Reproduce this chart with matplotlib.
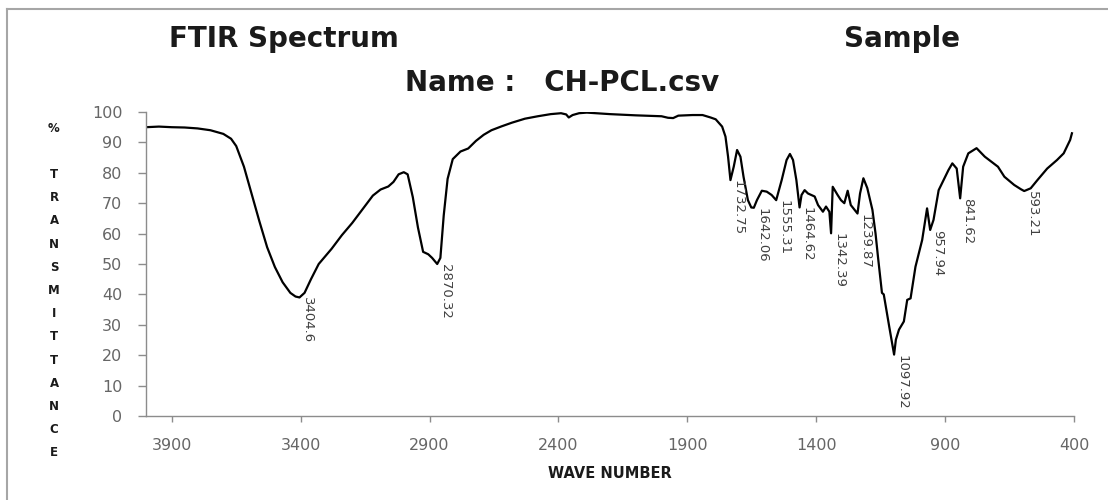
import matplotlib
matplotlib.use("Agg")
import matplotlib.pyplot as plt
import numpy as np
from matplotlib.lines import Line2D

# ---------------- data ----------------
wavenumber = [
    4000, 3950, 3900, 3850, 3800, 3750, 3700, 3670, 3650, 3620, 3590, 3560,
    3530, 3500, 3470, 3440, 3420, 3404.6, 3385, 3360, 3330, 3300, 3280, 3240,
    3200, 3160, 3120, 3090, 3060, 3040, 3020, 3000, 2985, 2965, 2945, 2925,
    2905, 2890, 2870.32, 2858, 2845, 2830, 2810, 2780, 2750, 2720, 2690, 2660,
    2620, 2580, 2530, 2480, 2430, 2390, 2370, 2360, 2345, 2320, 2290, 2200,
    2100, 2000, 1975, 1955, 1935, 1880, 1841, 1810, 1790, 1765, 1752, 1742,
    1732.75, 1720, 1707, 1694, 1682, 1665, 1652, 1642.06, 1630, 1611, 1592,
    1573, 1555.31, 1534, 1515, 1502, 1490, 1477, 1464.62, 1457, 1445, 1432,
    1419, 1406, 1393, 1374, 1362, 1349, 1342.39, 1336, 1317, 1304, 1291, 1278,
    1266, 1239.87, 1230, 1217, 1202, 1182, 1170, 1160, 1145, 1138, 1117,
    1097.92, 1091, 1079, 1060, 1047, 1034, 1015, 989, 970, 957.94, 945, 925,
    906, 887, 872, 855, 841.62, 830, 810, 778, 746, 695, 670, 632, 606,
    593.21, 568, 542, 504, 466, 440, 415, 408,
]
transmittance = [
    95.0, 95.2, 95.0, 94.9, 94.6, 94.0, 92.8, 91.2, 88.8, 82.0, 73.0, 64.0,
    55.5, 49.0, 44.0, 40.5, 39.3, 39.0, 40.5, 45.0, 50.0, 53.0, 55.0, 59.5,
    63.5, 68.0, 72.5, 74.5, 75.5, 77.0, 79.5, 80.2, 79.5, 72.0, 62.0, 54.0,
    53.2, 52.0, 50.0, 52.0, 66.0, 78.0, 84.5, 87.0, 88.0, 90.5, 92.5, 94.0,
    95.3, 96.5, 97.8, 98.6, 99.3, 99.6, 99.2, 98.2, 99.0, 99.6, 99.8, 99.3,
    98.9, 98.6, 98.1, 98.0, 98.8, 99.0, 99.0, 98.2, 97.6, 95.2, 91.9, 85.3,
    77.6, 82.0, 87.5, 85.3, 78.7, 71.0, 68.6, 68.5, 71.0, 74.1, 73.8,
    72.7, 71.0, 77.6, 84.2, 86.2, 84.2, 77.6, 68.6, 72.7, 74.3, 73.2,
    72.7, 72.2, 69.4, 67.2, 68.9, 67.2, 60.1, 75.4, 72.7, 71.0, 70.0, 74.1,
    69.4, 66.6, 73.2, 78.2, 75.0, 67.8, 60.1, 52.0, 40.5, 40.0, 29.5,
    20.2, 25.1, 28.4, 31.1, 38.2, 38.7, 49.1, 57.9, 68.3, 61.2, 64.5, 74.3,
    77.6, 80.9, 83.1, 81.4, 71.6, 82.0, 86.4, 88.1, 85.3, 82.0, 78.7, 76.0, 74.6,
    74.0, 74.9, 77.6, 81.4, 84.2, 86.4, 90.8, 93.0,
]

peak_positions = [3404.6, 2870.32, 1732.75, 1642.06, 1555.31, 1464.62,
                  1342.39, 1239.87, 1097.92, 957.94, 841.62, 593.21]
peak_labels = ['3404.6', '2870.32', '1732.75', '1642.06', '1555.31', '1464.62',
               '1342.39', '1239.87', '1097.92', '957.94', '841.62', '593.21']

x_ticks = [3900, 3400, 2900, 2400, 1900, 1400, 900, 400]
y_ticks = list(range(0, 101, 10))
y_title_letters = ['%', '', 'T', 'R', 'A', 'N', 'S', 'M', 'I', 'T', 'T', 'A', 'N', 'C', 'E']

# ---------------- figure ----------------
W, H = 1108, 500
fig = plt.figure(figsize=(W / 100, H / 100), dpi=100)
ax = fig.add_axes([146 / W, 1 - 416 / H, (1074 - 146) / W, (416 - 112) / H])

ax.plot(wavenumber, transmittance, color='black', linewidth=1.6)

# peak labels, rotated, hanging from the data point
wn_arr = np.array(wavenumber)[::-1]
tr_arr = np.array(transmittance)[::-1]
for pos, lbl in zip(peak_positions, peak_labels):
    val = np.interp(pos, wn_arr, tr_arr)
    ax.annotate(lbl, (pos, val), xytext=(1, 0), textcoords='offset points',
                rotation=270, ha='left', va='top', fontsize=9.5, color='#404040')

ax.set_xlim(4000, 400)
ax.set_ylim(0, 100)
ax.set_xticks(x_ticks)
ax.set_yticks(y_ticks)

axis_grey = '#8c8c8c'
for side in ['top', 'right']:
    ax.spines[side].set_visible(False)
for side in ['left', 'bottom']:
    ax.spines[side].set_color(axis_grey)
    ax.spines[side].set_linewidth(1.0)
ax.tick_params(axis='both', direction='out', width=1, color=axis_grey,
               labelcolor='#666666', labelsize=11.5)
ax.tick_params(axis='y', length=6, pad=11)
ax.tick_params(axis='x', length=4, pad=12)

# ---------------- titles / labels ----------------
fig.text(284 / W, 1 - 39 / H, 'FTIR Spectrum', ha='center', va='center',
         fontsize=20, fontweight='bold', color='#1a1a1a')
fig.text(902 / W, 1 - 39 / H, 'Sample', ha='center', va='center',
         fontsize=20, fontweight='bold', color='#1a1a1a')
fig.text(562 / W, 1 - 83 / H, 'Name :   CH-PCL.csv', ha='center', va='center',
         fontsize=20, fontweight='bold', color='#1a1a1a')

fig.text(610 / W, 1 - 474 / H, 'WAVE NUMBER', ha='center', va='center',
         fontsize=10.5, fontweight='bold', color='#1a1a1a')

for i, ch in enumerate(y_title_letters):
    if ch:
        fig.text(54 / W, 1 - (128 + i * 23.2) / H, ch, ha='center', va='center',
                 fontsize=8.5, fontweight='bold', color='#1a1a1a')

# outer frame (cut at the right and bottom like the source)
frame_c = '#a6a6a6'
fig.add_artist(Line2D([7 / W, 7 / W], [0, 1 - 9 / H], color=frame_c, lw=1.5,
                      transform=fig.transFigure))
fig.add_artist(Line2D([7 / W, 1], [1 - 9 / H, 1 - 9 / H], color=frame_c, lw=1.5,
                      transform=fig.transFigure))

fig.savefig('out.png', dpi=100)
